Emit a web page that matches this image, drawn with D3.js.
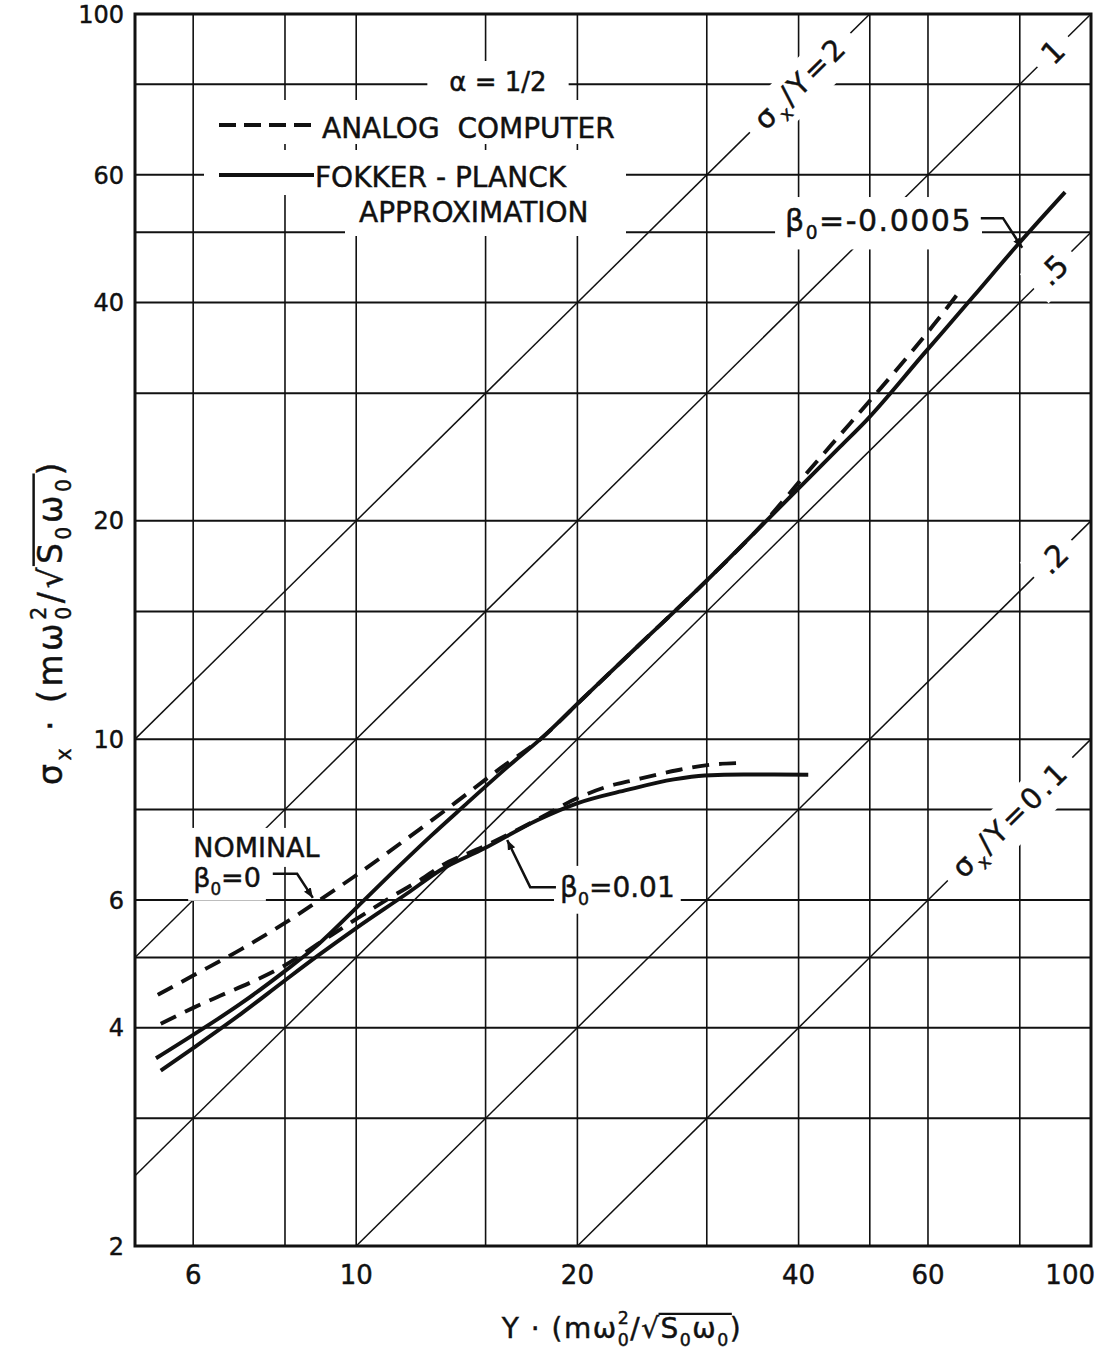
<!DOCTYPE html>
<html><head><meta charset="utf-8">
<script src="https://cdn.jsdelivr.net/npm/d3@7"></script>
<style>
body{margin:0;background:#fff}
text{font-family:"DejaVu Sans",sans-serif;fill:#111;stroke:#111;stroke-width:0.45px}
</style>
</head><body>
<svg id="c" width="1116" height="1354"></svg>
<script>
// ---------- data ----------
const xTickValues = [6, 10, 20, 40, 60, 100];
const yTickValues = [2, 4, 6, 10, 20, 40, 60, 100];
const xGridValues = [6, 8, 10, 15, 20, 30, 40, 50, 60, 80];
const yGridValues = [3, 4, 5, 6, 8, 10, 15, 20, 30, 40, 50, 60, 80];
const ratioValues = [2, 1, 0.5, 0.2, 0.1];
const ratioLabelX = [40.2, 88.7, 88.7, 88.7, 77.6];

// Fokker-Planck, nominal / beta0 = -0.0005 (upper solid)
const fpNominalX = [5.34, 6.00, 6.97, 7.98, 8.76, 9.98, 11.38, 12.63, 14.02, 16.06, 17.81, 20.30, 24.12, 29.72, 36.24, 45.57, 49.44, 59.29, 69.2, 79.25, 92.2];
const fpNominalY = [3.63, 3.91, 4.32, 4.78, 5.15, 5.84, 6.65, 7.35, 8.09, 9.15, 10.0, 11.35, 13.41, 16.40, 20.05, 25.31, 27.50, 34.04, 40.8, 47.9, 56.8];
// Analog computer, nominal beta0 = 0 (upper dashed)
const acNominalX = [5.37, 6.00, 6.97, 7.98, 8.85, 9.93, 11.74, 13.66, 15.72, 17.81, 20.30, 24.12, 29.72, 36.24, 41.07, 47.0, 53.84, 61.04, 66.78];
const acNominalY = [4.44, 4.72, 5.13, 5.57, 5.97, 6.46, 7.30, 8.18, 9.12, 10.0, 11.35, 13.41, 16.40, 20.1, 23.3, 27.25, 31.94, 37.24, 41.89];
// Fokker-Planck, beta0 = 0.01 (lower solid)
const fp001X = [5.42, 6.00, 6.97, 7.98, 8.85, 9.98, 11.74, 13.03, 14.95, 17.63, 19.94, 23.37, 27.05, 29.81, 33.65, 41.23];
const fp001Y = [3.49, 3.75, 4.18, 4.64, 5.02, 5.48, 6.13, 6.60, 7.07, 7.73, 8.15, 8.51, 8.80, 8.91, 8.94, 8.93];
// Analog computer, beta0 = 0.01 (lower dashed)
const ac001X = [5.42, 6.00, 6.54, 7.19, 7.98, 8.95, 9.98, 11.38, 12.24, 13.03, 14.95, 17.27, 20.2, 21.95, 23.86, 27.34, 30.03, 33.33];
const ac001Y = [4.05, 4.26, 4.43, 4.62, 4.87, 5.25, 5.64, 6.13, 6.40, 6.68, 7.12, 7.66, 8.33, 8.60, 8.78, 9.06, 9.21, 9.27];

// ---------- setup ----------
const ink = '#111';
const svg = d3.select('#c');
const L = 135, T = 14, R = 1091, B = 1246;
const x = d3.scaleLog().domain([5, 100]).range([L, R]);
const y = d3.scaleLog().domain([2, 100]).range([B, T]);

const defs = svg.append('defs');
defs.append('clipPath').attr('id', 'plot').append('rect')
  .attr('x', L).attr('y', T).attr('width', R - L).attr('height', B - T);
defs.append('marker').attr('id', 'arr').attr('viewBox', '0 0 10 10')
  .attr('refX', 10).attr('refY', 5).attr('markerWidth', 10).attr('markerHeight', 10)
  .attr('markerUnits', 'userSpaceOnUse').attr('orient', 'auto')
  .append('path').attr('d', 'M0,1 L10,5 L0,9 z').attr('fill', ink);

svg.append('rect').attr('width', 1116).attr('height', 1354).attr('fill', '#fff');

// rich text helper
function rich(parent, pieces, size, ls) {
  const g = parent.append('g');
  let cx = 0, prev = null; const ol = [];
  pieces.forEach(p => {
    const t = p[0], k = p[1] || 'n';
    let fs = size, dy = 0;
    if (k === 'sub') { fs = size * 0.62; dy = size * 0.28; }
    if (k === 'supstack' || k === 'sup') { fs = size * 0.62; dy = -size * 0.5; }
    const x0 = (k === 'supstack' && prev) ? prev.x0 : cx;
    const el = g.append('text').attr('x', x0).attr('y', dy).attr('font-size', fs).text(t);
    if (ls) el.attr('letter-spacing', ls);
    const w = el.node().getComputedTextLength();
    const rec = { x0, x1: x0 + w };
    cx = (k === 'supstack') ? Math.max(cx, x0 + w) : x0 + w;
    if (p[2] === 'ol') ol.push(rec);
    prev = rec;
  });
  if (ol.length) {
    g.append('line').attr('x1', ol[0].x0 - 2).attr('x2', ol[ol.length - 1].x1 + 2)
      .attr('y1', -size * 0.86).attr('y2', -size * 0.86)
      .attr('stroke', ink).attr('stroke-width', size * 0.075);
  }
  return { g, width: cx };
}
function place(parent, pieces, size, o) {
  const outer = parent.append('g')
    .attr('transform', `translate(${o.x},${o.y}) rotate(${o.rot || 0})`);
  const r = rich(outer, pieces, size, o.ls);
  const ax = o.anchor === 'middle' ? -r.width / 2 : o.anchor === 'end' ? -r.width : 0;
  r.g.attr('transform', `translate(${ax},${o.dy || 0})`);
  if (o.bg) {
    const bb = r.g.node().getBBox();
    const px = o.bg[0], py = o.bg[1];
    r.g.insert('rect', ':first-child')
      .attr('x', bb.x - px).attr('y', bb.y - py)
      .attr('width', bb.width + 2 * px).attr('height', bb.height + 2 * py)
      .attr('fill', '#fff');
  }
  return r;
}

// ---------- grid ----------
const gGrid = svg.append('g').attr('clip-path', 'url(#plot)');
gGrid.selectAll('line.v').data(xGridValues).join('line').attr('class', 'v')
  .attr('x1', d => x(d)).attr('x2', d => x(d)).attr('y1', T).attr('y2', B)
  .attr('stroke', ink).attr('stroke-width', 1.6);
gGrid.selectAll('line.h').data(yGridValues).join('line').attr('class', 'h')
  .attr('y1', d => y(d)).attr('y2', d => y(d)).attr('x1', L).attr('x2', R)
  .attr('stroke', ink).attr('stroke-width', 2);
const rx0 = k => Math.max(5, 2 / k), rx1 = k => Math.min(100, 100 / k);
gGrid.selectAll('line.r').data(ratioValues).join('line').attr('class', 'r')
  .attr('x1', k => x(rx0(k))).attr('y1', k => y(k * rx0(k)))
  .attr('x2', k => x(rx1(k))).attr('y2', k => y(k * rx1(k)))
  .attr('stroke', ink).attr('stroke-width', 1.5);

// ---------- labels ----------
const gLab = svg.append('g');
const ratioPieces = [
  [['σ'], ['x', 'sub'], ['/Y=2']],
  [['1']], [['.5']], [['.2']],
  [['σ'], ['x', 'sub'], ['/Y=0.1']]
];
ratioValues.forEach((k, i) => {
  const X = ratioLabelX[i];
  const ang = Math.atan2(y(k * X * 2) - y(k * X), x(X * 2) - x(X)) * 180 / Math.PI;
  const fs = (i === 0 || i === 4) ? 29 : 30;
  place(gLab, ratioPieces[i], fs, { x: x(X), y: y(k * X), rot: ang, anchor: 'middle',
    dy: fs * 0.36, ls: (i === 0 || i === 4) ? 3 : 0, bg: [12, 3] });
});

// legend
place(gLab, [['α\u00a0=\u00a01/2']], 26, { x: 498, y: 91, anchor: 'middle', bg: [22, 6] });
const lg1 = gLab.append('g');
lg1.append('rect').attr('x', 210).attr('y', 100).attr('width', 420).attr('height', 44).attr('fill', '#fff');
lg1.append('line').attr('x1', 219).attr('x2', 312).attr('y1', 125).attr('y2', 125)
  .attr('stroke', ink).attr('stroke-width', 4).attr('stroke-dasharray', '17,8');
place(lg1, [['ANALOG\u00a0\u00a0COMPUTER']], 28, { x: 322, y: 138 });
const lg2 = gLab.append('g');
lg2.append('rect').attr('x', 204).attr('y', 150).attr('width', 422).attr('height', 45).attr('fill', '#fff');
lg2.append('rect').attr('x', 345).attr('y', 190).attr('width', 281).attr('height', 46).attr('fill', '#fff');
lg2.append('line').attr('x1', 219).attr('x2', 314).attr('y1', 175).attr('y2', 175)
  .attr('stroke', ink).attr('stroke-width', 3.8);
place(lg2, [['FOKKER\u00a0-\u00a0PLANCK']], 28, { x: 315, y: 187 });
place(lg2, [['APPROXIMATION']], 28, { x: 359, y: 222 });

// annotations (anchored in data units)
place(gLab, [['NOMINAL']], 27, { x: x(6.0), y: y(6.88), bg: [5, 4] });
place(gLab, [['β'], ['0', 'sub'], ['=0']], 27, { x: x(6.0), y: y(6.25), bg: [5, 2] });
gLab.append('path').attr('fill', 'none').attr('stroke', ink).attr('stroke-width', 2.5)
  .attr('marker-end', 'url(#arr)')
  .attr('d', d3.line()([[x(7.70), y(6.52)], [x(8.31), y(6.52)], [x(8.73), y(6.04)]]));

place(gLab, [['β'], ['0', 'sub'], ['=0.01']], 28, { x: x(18.94), y: y(6.06), bg: [6, 5] });
gLab.append('path').attr('fill', 'none').attr('stroke', ink).attr('stroke-width', 2.5)
  .attr('marker-end', 'url(#arr)')
  .attr('d', d3.line()([[x(18.7), y(6.25)], [x(17.25), y(6.25)], [x(16.05), y(7.26)]]));

place(gLab, [['β'], ['0', 'sub'], ['=-0.0005']], 30, { x: x(38.34), y: y(50.2), ls: 1.5, bg: [10, 6] });
gLab.append('path').attr('fill', 'none').attr('stroke', ink).attr('stroke-width', 2.5)
  .attr('marker-end', 'url(#arr)')
  .attr('d', d3.line()([[x(70.8), y(52.3)], [x(75.9), y(52.3)], [x(80.6), y(47.6)]]));

// ---------- curves ----------
const gC = svg.append('g').attr('clip-path', 'url(#plot)');
const lineGen = d3.line().x(d => x(d[0])).y(d => y(d[1])).curve(d3.curveMonotoneX);
const series = [
  { X: fpNominalX, Y: fpNominalY, dash: null },
  { X: fp001X, Y: fp001Y, dash: null },
  { X: acNominalX, Y: acNominalY, dash: '17,10' },
  { X: ac001X, Y: ac001Y, dash: '17,10' }
];
series.forEach(s => {
  gC.append('path').attr('d', lineGen(s.X.map((v, i) => [v, s.Y[i]])))
    .attr('fill', 'none').attr('stroke', ink).attr('stroke-width', 3.9)
    .attr('stroke-dasharray', s.dash);
});

// ---------- border & axes ----------
svg.append('rect').attr('x', L).attr('y', T).attr('width', R - L).attr('height', B - T)
  .attr('fill', 'none').attr('stroke', ink).attr('stroke-width', 3);

svg.append('g').selectAll('text').data(yTickValues).join('text')
  .attr('x', 124).attr('y', d => y(d) + 24 * 0.36).attr('text-anchor', 'end')
  .attr('font-size', 24).text(d => d);
svg.append('g').selectAll('text').data(xTickValues).join('text')
  .attr('x', d => d === 100 ? x(d) + 4 : x(d)).attr('y', 1284)
  .attr('text-anchor', d => d === 100 ? 'end' : 'middle')
  .attr('font-size', 26).text(d => d);

const tail = [['\u00a0·\u00a0('], ['mω'], ['0', 'sub'], ['2', 'supstack'], ['/√'],
  ['S', 'n', 'ol'], ['0', 'sub', 'ol'], ['ω', 'n', 'ol'], ['0', 'sub', 'ol'], [')']];
place(svg, [['Y']].concat(tail), 28, { x: 622, y: 1338, anchor: 'middle', ls: 1.5 });
place(svg, [['σ'], ['x', 'sub']].concat(tail), 33, { x: 62, y: 622, rot: -90, anchor: 'middle', ls: 3.5 });
</script>
</body></html>
